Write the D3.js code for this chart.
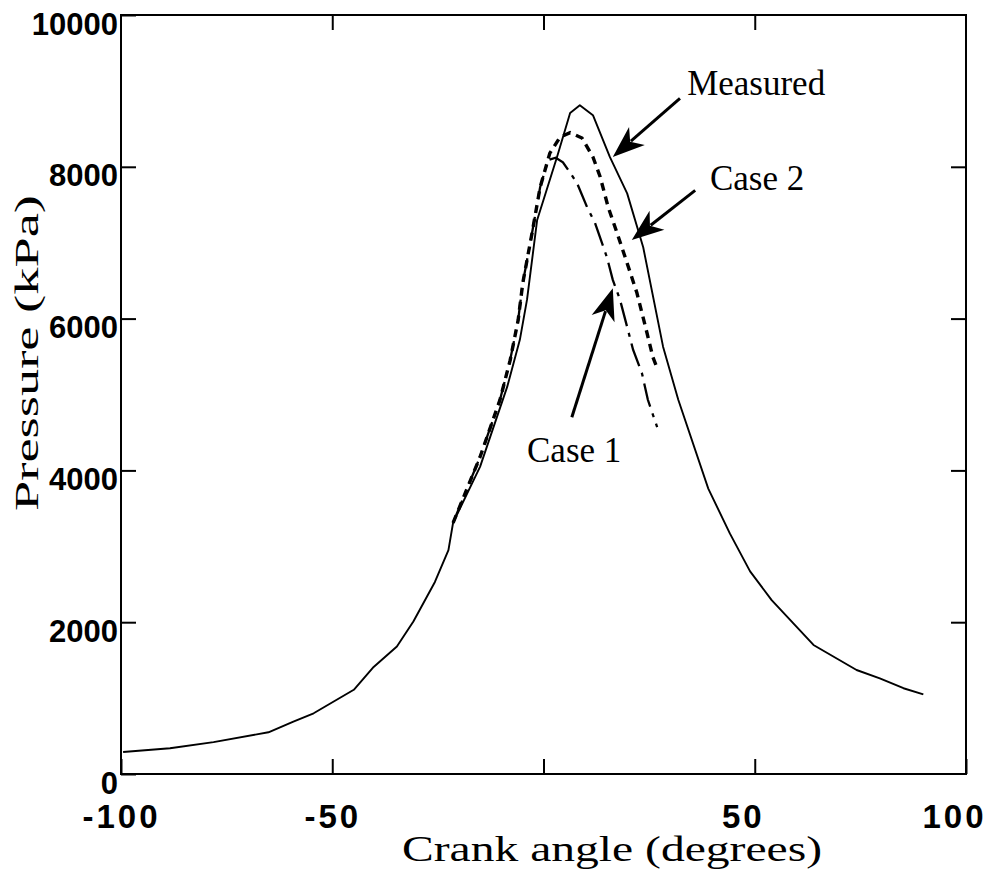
<!DOCTYPE html>
<html><head><meta charset="utf-8">
<script src="https://cdn.jsdelivr.net/npm/d3@7"></script>
<style>body{margin:0;background:#fff}</style>
</head><body>
<svg id="c" width="998" height="869"></svg>
<script>
// ---- data (crank angle in degrees, pressure in kPa) ----
const measuredAngle = [-99.5,-88.4,-78.1,-65.1,-59.2,-54.4,-44.9,-40.2,-34.7,-30.8,-25.7,-22.5,-21.4,-15.0,-8.6,-5.6,-3.9,-1.5,3.2,6.3,8.6,11.7,15.7,19.8,23.6,28.3,31.9,39.0,44.1,48.9,54.0,63.9,74.1,79.6,85.2,89.9];
const measuredPressure = [290,340,420,550,690,800,1110,1410,1680,2010,2530,2950,3310,4050,5100,5720,6250,7300,8130,8710,8810,8680,8130,7650,6940,5630,4930,3760,3170,2670,2290,1700,1370,1260,1130,1050];

const case1Angle = [-21.4,-15.0,-10.3,-7.9,-6.0,-4.9,-2.7,-0.8,1.1,2.9,4.6,7.9,10.3,12.2,15.0,16.4,18.1,19.8,21.2,23.3,24.7,26.9];
const case1Pressure = [3310,4180,4930,5450,5980,6470,7130,7730,8090,8120,8060,7790,7470,7260,6810,6510,6250,5890,5590,5280,4930,4570];

const case2Angle = [-21.4,-15.0,-10.3,-7.9,-6.0,-4.9,-2.7,-0.8,1.5,3.9,6.3,9.1,11.7,13.4,15.3,17.4,19.8,22.1,24.5,25.9,26.6];
const case2Pressure = [3310,4180,4930,5450,5980,6470,7130,7730,8180,8390,8450,8380,8130,7870,7470,7130,6730,6340,5810,5490,5390];

const xTicks = [-100,-50,0,50,100];
const xTickLabels = ["-100","-50","","50","100"];
const yTicks = [0,2000,4000,6000,8000,10000];
const yTickLabels = ["0","2000","4000","6000","8000","10000"];

// annotations: label, text anchor point, arrow tail, arrow tip (data units)
const annLabels = ["Measured","Case 2","Case 1"];
const annText = [[34.0,8940],[39.4,7690],[-3.9,4110]];
const annTail = [[32.3,8900],[35.9,7690],[6.7,4700]];
const annTip = [[16.4,8130],[20.9,7035],[16.4,6400]];

// ---- chart ----
const svg = d3.select("#c");
const L = 121, R = 966, T = 15, B = 774;
const x = d3.scaleLinear().domain([-100,100]).range([L,R]);
const y = d3.scaleLinear().domain([0,10000]).range([B,T]);
const serif = "'Liberation Serif','Times New Roman',serif";
const sans = "'Liberation Sans',Arial,Helvetica,sans-serif";

// frame
svg.append("rect").attr("x",L).attr("y",T).attr("width",R-L).attr("height",B-T)
  .attr("fill","none").attr("stroke","#000").attr("stroke-width",2);

// bottom axis
const gx = svg.append("g").attr("transform",`translate(0,${B})`)
  .call(d3.axisBottom(x).tickValues(xTicks).tickSize(-15).tickSizeOuter(0)
    .tickPadding(30).tickFormat((d,i)=>xTickLabels[i]));
gx.select(".domain").remove();
gx.selectAll(".tick line").attr("stroke","#000").attr("stroke-width",2);
gx.selectAll(".tick text").attr("font-family",sans).attr("font-weight","bold")
  .attr("font-size",33).attr("letter-spacing",3).attr("fill","#000")
  .attr("y",0).attr("dy",54).attr("dx",d=>d>0?-12:0);

// top axis (ticks only)
const gt = svg.append("g").attr("transform",`translate(0,${T})`)
  .call(d3.axisTop(x).tickValues(xTicks.slice(1,-1)).tickSize(-15).tickSizeOuter(0).tickFormat(""));
gt.select(".domain").remove();
gt.selectAll(".tick line").attr("stroke","#000").attr("stroke-width",2);

// left axis
const gy = svg.append("g").attr("transform",`translate(${L},0)`)
  .call(d3.axisLeft(y).tickValues(yTicks).tickSize(-15).tickSizeOuter(0)
    .tickPadding(4).tickFormat((d,i)=>yTickLabels[i]));
gy.select(".domain").remove();
gy.selectAll(".tick line").attr("stroke","#000").attr("stroke-width",2);
gy.selectAll(".tick text").attr("font-family",sans).attr("font-weight","bold")
  .attr("font-size",31).attr("fill","#000").attr("dy",19).attr("x",-3);

// right axis (ticks only)
const gr = svg.append("g").attr("transform",`translate(${R},0)`)
  .call(d3.axisRight(y).tickValues(yTicks.slice(1,-1)).tickSize(-15).tickSizeOuter(0).tickFormat(""));
gr.select(".domain").remove();
gr.selectAll(".tick line").attr("stroke","#000").attr("stroke-width",2);

// curves
const line = d3.line().x(d=>x(d[0])).y(d=>y(d[1])).curve(d3.curveLinear);
const zip = (a,b)=>a.map((v,i)=>[v,b[i]]);
svg.append("path").attr("d",line(zip(case1Angle,case1Pressure)))
  .attr("fill","none").attr("stroke","#000").attr("stroke-width",2.3)
  .attr("stroke-dasharray","24,7,4,7");
svg.append("path").attr("d",line(zip(case2Angle,case2Pressure)))
  .attr("fill","none").attr("stroke","#000").attr("stroke-width",3.4)
  .attr("stroke-dasharray","8,6");
svg.append("path").attr("d",line(zip(measuredAngle,measuredPressure)))
  .attr("fill","none").attr("stroke","#000").attr("stroke-width",1.9)
  .attr("stroke-linejoin","round");

// annotations
annLabels.forEach((lab,i)=>{
  const x0=x(annTail[i][0]), y0=y(annTail[i][1]);
  const x1=x(annTip[i][0]), y1=y(annTip[i][1]);
  const ang=Math.atan2(y1-y0,x1-x0);
  const hl=32, hw=12;
  const c=Math.cos(ang), s=Math.sin(ang);
  const bx=x1-hl*c, by=y1-hl*s;
  svg.append("line").attr("x1",x0).attr("y1",y0).attr("x2",bx+8*c).attr("y2",by+8*s)
    .attr("stroke","#000").attr("stroke-width",3);
  const px=-s, py=c;
  svg.append("path").attr("d",`M${x1},${y1}L${bx+hw*px},${by+hw*py}L${bx+hl*0.28*c},${by+hl*0.28*s}L${bx-hw*px},${by-hw*py}Z`)
    .attr("fill","#000");
  svg.append("text").attr("x",x(annText[i][0])).attr("y",y(annText[i][1]))
    .attr("font-family",serif).attr("font-size",35).attr("fill","#000").text(lab);
});

// axis titles
svg.append("text").attr("x",612).attr("y",861).attr("text-anchor","middle")
  .attr("font-family",serif).attr("font-size",36)
  .attr("textLength",420).attr("lengthAdjust","spacingAndGlyphs").text("Crank angle (degrees)");
svg.append("text").attr("transform","translate(38,353) rotate(-90)").attr("text-anchor","middle")
  .attr("font-family",serif).attr("font-size",34)
  .attr("textLength",316).attr("lengthAdjust","spacingAndGlyphs").text("Pressure (kPa)");
</script>
</body></html>
